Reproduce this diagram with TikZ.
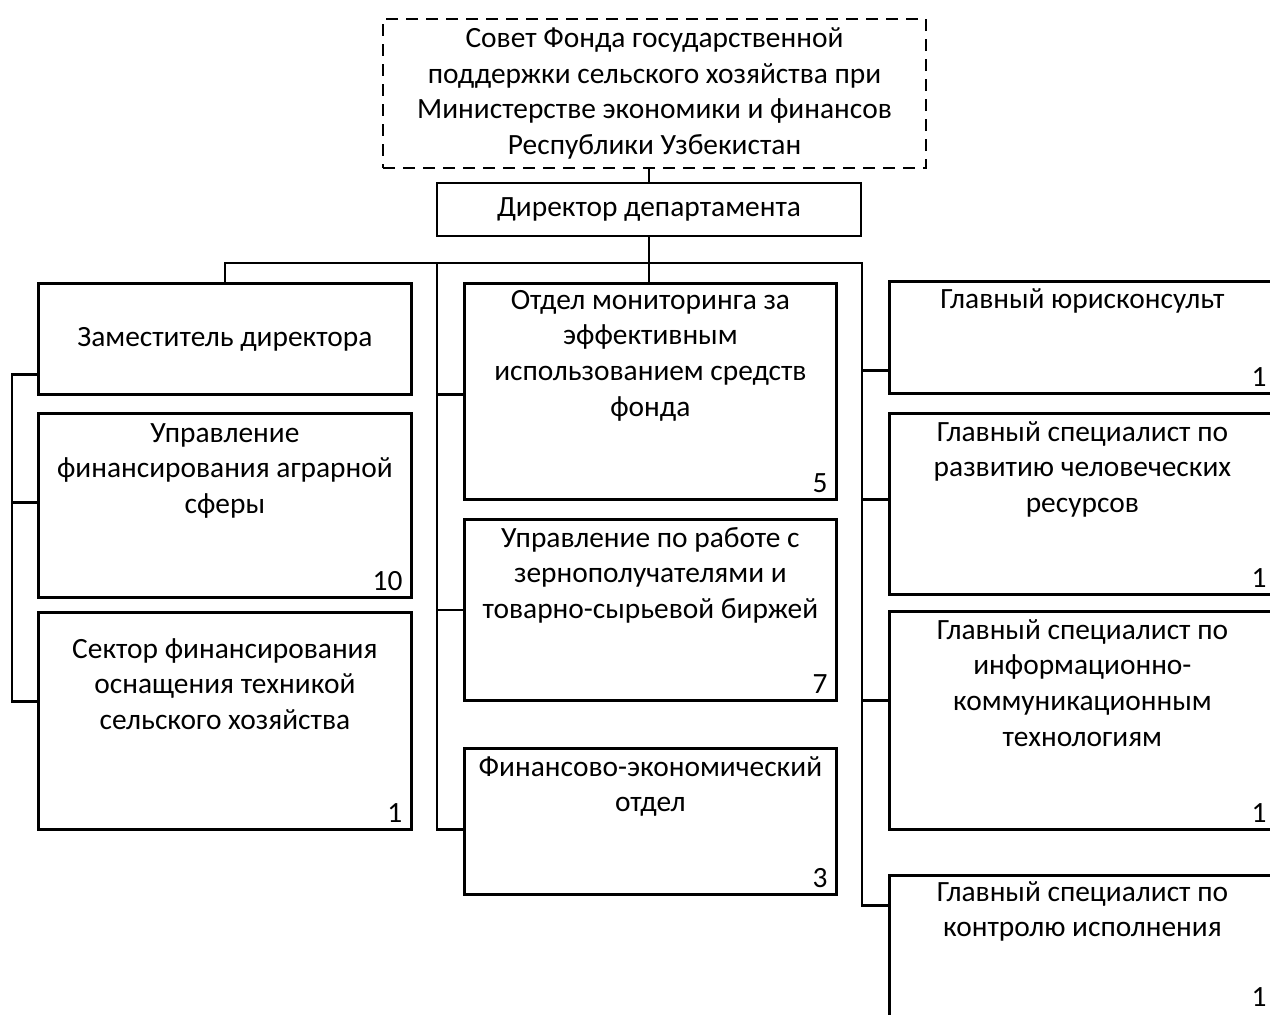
\documentclass[tikz,border=0pt]{standalone}
\usepackage{fontspec}
\setmainfont{Carlito}
\usepackage{tikz}

\newcommand{\unittext}[5]{\parbox[c][#2][s]{#1}{\vspace*{#3}\centering\strut #4\par\vfill\raggedleft #5\kern4.5pt\par\vspace*{3.5pt}}}

\begin{document}
\begin{tikzpicture}[x=0.5pt,y=-0.5pt,line width=1.4pt,font=\fontsize{14.7}{17.8}\selectfont,
	unit/.style={draw,rectangle,inner sep=0pt,anchor=north west}]
	\useasboundingbox (0,0) rectangle (1270,1014);
	\clip (0,0) rectangle (1270,1014);

	\node[draw,dash pattern=on 6pt off 4pt,minimum width=271.5pt,minimum height=74.5pt,align=center] (sovet) at (654.5,93.5)
		{Совет Фонда государственной\\поддержки сельского хозяйства при\\Министерстве экономики и финансов\\Республики Узбекистан};
	\node[draw,minimum width=212pt,minimum height=26.5pt] (dir) at (649,209.5) {Директор департамента};

	\node[draw,anchor=north west,minimum width=186.5pt,minimum height=55.5pt] (zam) at (37,282) {Заместитель директора};
	\node[unit] (agr) at (37,412) {\unittext{186.5pt}{92pt}{2pt}{Управление\\финансирования аграрной\\сферы}{10}};
	\node[unit] (sek) at (37,611) {\unittext{186.5pt}{108.5pt}{10.5pt}{Сектор финансирования\\оснащения техникой\\сельского хозяйства}{1}};

	\node[unit] (mon) at (463,282) {\unittext{186pt}{108pt}{0.5pt}{Отдел мониторинга за\\эффективным\\использованием средств\\фонда}{5}};
	\node[unit] (zern) at (463,518) {\unittext{186pt}{90.5pt}{1.5pt}{Управление по работе с\\зернополучателями и\\товарно-сырьевой биржей}{7}};
	\node[unit] (fin) at (463,747) {\unittext{186pt}{73pt}{1.5pt}{Финансово-экономический\\отдел}{3}};

	\node[unit] (yur) at (888,280) {\unittext{193pt}{56pt}{1pt}{Главный юрисконсульт}{1}};
	\node[unit] (hr) at (888,412) {\unittext{193pt}{90.5pt}{1.5pt}{Главный специалист по\\развитию человеческих\\ресурсов}{1}};
	\node[unit] (ikt) at (888,610) {\unittext{193pt}{109pt}{1.5pt}{Главный специалист по\\информационно-\\коммуникационным\\технологиям}{1}};
	\node[unit] (kon) at (888,874) {\unittext{193pt}{71pt}{0.5pt}{Главный специалист по\\контролю исполнения}{\raisebox{2pt}{1}}};

	\coordinate (mbus) at (437,263);
	\coordinate (rbus) at (862,263);

	\draw (dir.north) -- (dir.north |- sovet.south);
	\draw (dir.south) -- (dir.south |- mon.north);
	\draw (zam.north) |- (rbus) |- ([yshift=20.5pt]kon.west);
	\draw (mbus) |- ([yshift=-4pt]fin.west);
	\draw ([yshift=-17.75pt]zam.west) -- ++(-25,0) |- ([yshift=9.75pt]sek.west);
	\draw ([yshift=1.5pt]agr.west) -- ++(-25,0);
	\draw ([yshift=-1.5pt]mon.west) -- ++(-26,0);
	\draw (zern.west) -- ++(-26,0);
	\draw ([yshift=-16.5pt]yur.west) -- ++(-26,0);
	\draw ([yshift=2.25pt]hr.west) -- ++(-26,0);
	\draw ([yshift=10pt]ikt.west) -- ++(-26,0);
\end{tikzpicture}
\end{document}
